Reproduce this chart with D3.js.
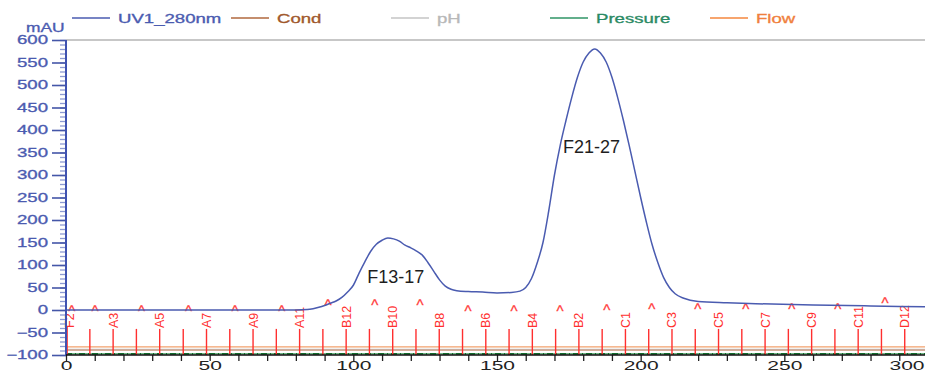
<!DOCTYPE html>
<html><head><meta charset="utf-8">
<script src="https://cdn.jsdelivr.net/npm/d3@7"></script>
<style>
html,body{margin:0;padding:0;background:#fff;overflow:hidden}
svg{display:block}
text{font-family:"Liberation Sans",Arial,sans-serif}
</style></head><body>
<svg id="chart" width="925" height="374"></svg>
<script>
// UV 280 nm trace: elution volume (ml) and absorbance (mAU)
const uvTime  = [0, 40, 80, 84, 86, 88, 90, 92, 94, 96, 98, 100, 102, 104, 106, 108, 110, 112,
                 114, 116, 118, 120, 122, 124, 126, 128, 130, 132, 134, 136, 140, 145, 150, 155, 158,
                 160, 162, 164, 166, 168, 170, 172, 174, 176, 178, 180, 182, 184, 186, 188, 190,
                 192, 194, 196, 198, 200, 202, 204, 206, 208, 210, 212, 215, 220, 230, 240, 260, 280, 300];
const uvValue = [0, 0, 0, 1, 3, 6, 10, 15, 20, 28, 40, 55, 82, 107, 130, 146, 155, 160,
                 158, 153, 144, 138, 131, 122, 105, 86, 67, 53, 46, 43, 41, 40, 38, 39, 42,
                 50, 70, 105, 150, 220, 300, 366, 421, 472, 517, 551, 571, 580, 571, 551, 517,
                 472, 421, 366, 308, 250, 195, 145, 105, 72, 50, 36, 26, 19, 16, 14, 11, 9, 7];

// Flat system traces near the bottom of the scale
const sysTime      = [0, 300];
const flowValue    = [-82, -82];
const condValue    = [-89, -89];
const phValue      = [-87.5, -87.5];
const pressureValue= [-97.5, -97.5];

// Fraction collector marks
const fracPos = [0.2, 8.3, 16.4, 24.5, 32.6, 40.8, 48.9, 57.0, 65.1, 73.2, 81.3, 89.4, 97.5,
                 105.6, 113.7, 121.8, 129.9, 138.0, 146.1, 154.2, 162.3, 170.4, 178.5, 186.6,
                 194.7, 202.8, 210.9, 219.0, 227.1, 235.2, 243.3, 251.4, 259.5, 267.6, 275.7,
                 283.8, 291.9];
const fracLabel = ["F2", "", "A3", "", "A5", "", "A7", "", "A9", "", "A11", "", "B12",
                   "", "B10", "", "B8", "", "B6", "", "B4", "", "B2", "",
                   "C1", "", "C3", "", "C5", "", "C7", "", "C9", "", "C11", "", "D12"];

// Event marks (^) along the baseline
const markPos   = [2.0, 10.1, 26.3, 42.6, 58.8, 75.1, 91.2, 107.5, 123.2, 139.9, 155.9,
                   171.9, 188.2, 203.9, 219.9, 236.6, 252.6, 268.6, 285.0];
const markLevel = [7, 7, 7, 7, 7, 7, 21, 21, 21, 7, 7, 7, 9, 11, 11, 11, 11, 11, 24];

// Axis ticks
const yTicks = [-100, -50, 0, 50, 100, 150, 200, 250, 300, 350, 400, 450, 500, 550, 600];
const xTicks = [0, 50, 100, 150, 200, 250, 300];

// Peak annotations
const peakNames = ["F13-17", "F21-27"];
const peakX     = [114.8, 182.9];
const peakY     = [60, 348];

// Legend
const legendNames  = ["UV1_280nm", "Cond", "pH", "Pressure", "Flow"];
const legendColors = ["#4a5bb0", "#b0683e", "#c4c4c4", "#2f9566", "#f4873e"];
const legendText   = ["#4a5bb0", "#a0582c", "#b8b8b8", "#2a8a64", "#f07f3c"];
const legendX      = [72, 231, 391, 550, 710];

const W = 925;
const svg = d3.select("#chart");
const x = d3.scaleLinear().domain([0, 300]).range([66, 928]);
const y = d3.scaleLinear().domain([-100, 600]).range([355, 40]);
const SX = 1.55; // horizontal stretch of the instrument lettering

// frame top
svg.append("line").attr("x1", 66).attr("x2", W).attr("y1", y(600)).attr("y2", y(600))
  .attr("stroke", "#b4b4b4").attr("stroke-width", 1.5);

// system traces
const sysLine = vals => d3.line().x((d, i) => x(sysTime[i])).y(d => y(d))(vals);
svg.append("path").attr("d", sysLine(flowValue)).attr("fill", "none").attr("stroke", "#f2a16c").attr("stroke-width", 1.2);
svg.append("path").attr("d", sysLine(phValue)).attr("fill", "none").attr("stroke", "#c8c8c8").attr("stroke-width", 1.2);
svg.append("path").attr("d", sysLine(condValue)).attr("fill", "none").attr("stroke", "#c99277").attr("stroke-width", 1.2);
svg.append("path").attr("d", sysLine(pressureValue)).attr("fill", "none").attr("stroke", "#3f9a5a").attr("stroke-width", 1.2);
svg.append("path").attr("d", sysLine(pressureValue)).attr("fill", "none").attr("stroke", "#136b2c")
  .attr("stroke-width", 1.6).attr("stroke-dasharray", "6 3 1 3");

// fraction lines and labels
const fr = svg.append("g");
fr.selectAll("line").data(fracPos).join("line")
  .attr("x1", d => x(d)).attr("x2", d => x(d))
  .attr("y1", (d, i) => i === 0 ? y(-36) : y(-42)).attr("y2", y(-100))
  .attr("stroke", "#ff2f2f").attr("stroke-width", (d, i) => i === 0 ? 2.5 : 1.4);
fr.selectAll("text").data(fracPos).join("text")
  .filter((d, i) => fracLabel[i] !== "")
  .attr("transform", (d, i) => `translate(${x(d) + (d < 1 ? 7.5 : 4.5)},${y(-40)}) rotate(-90)`)
  .attr("font-size", 12.5).attr("fill", "#ff2f2f")
  .text(d => fracLabel[fracPos.indexOf(d)]);

// event marks
svg.append("g").selectAll("text").data(markPos).join("text")
  .attr("x", d => x(d)).attr("y", (d, i) => y(markLevel[i]) + 9)
  .attr("text-anchor", "middle").attr("font-size", 15).attr("fill", "#ff3a3a")
  .attr("stroke", "#ff3a3a").attr("stroke-width", 0.3)
  .text("^");

// UV curve
svg.append("path")
  .attr("d", d3.line().x((d, i) => x(uvTime[i])).y(d => y(d)).curve(d3.curveMonotoneX)(uvValue))
  .attr("fill", "none").attr("stroke", "#4a5bb0").attr("stroke-width", 1.5);

// y axis
const yMinor = svg.append("g").attr("transform", "translate(66,0)")
  .call(d3.axisLeft(y).ticks(70).tickSize(6).tickFormat(""));
yMinor.select(".domain").remove();
yMinor.selectAll("line").attr("stroke", "#8d9ad2").attr("stroke-width", 1.3);
const yAx = svg.append("g").attr("transform", "translate(66,0)")
  .call(d3.axisLeft(y).tickValues(yTicks).tickSize(14));
yAx.select(".domain").remove();
yAx.selectAll("line").attr("stroke", "#4456a8").attr("stroke-width", 1.6);
yAx.selectAll("text").attr("font-size", 12).attr("font-family", "Liberation Sans")
  .attr("fill", "#4b5bb0").attr("stroke", "#4b5bb0").attr("stroke-width", 0.3)
  .attr("x", -18 / SX).attr("transform", `scale(${SX},1)`);
svg.append("line").attr("x1", 66).attr("x2", 66).attr("y1", y(600)).attr("y2", y(-100))
  .attr("stroke", "#3f52b0").attr("stroke-width", 2);

// x axis; the last label sits at the window edge, so it is right-aligned there
const XS = 1.75;
const xAx = svg.append("g").attr("transform", `translate(0,${y(-100)})`)
  .call(d3.axisBottom(x).ticks(30).tickSize(6).tickFormat(d => xTicks.includes(d) ? d : ""));
xAx.select(".domain").remove();
xAx.selectAll("line").attr("stroke", "#222").attr("stroke-width", 1.3);
xAx.selectAll("text").attr("font-size", 12).attr("font-family", "Liberation Sans")
  .attr("fill", "#222").attr("y", 6.5).attr("transform", `scale(${XS},1)`);
xAx.selectAll(".tick").filter(d => x(d) > W - 20).select("text")
  .attr("text-anchor", "end").attr("x", (W - 1 - x(300)) / XS);
svg.append("line").attr("x1", 66).attr("x2", W).attr("y1", y(-100)).attr("y2", y(-100))
  .attr("stroke", "#111").attr("stroke-width", 1.6);

// y unit
svg.append("text").attr("transform", `translate(26,32) scale(1.45,1)`)
  .attr("font-size", 12).attr("fill", "#4b5bb0").attr("stroke", "#4b5bb0").attr("stroke-width", 0.3)
  .text("mAU");

// legend
const lg = svg.append("g").selectAll("g").data(legendNames).join("g")
  .attr("transform", (d, i) => `translate(${legendX[i]},18)`);
lg.append("line").attr("x1", 0).attr("x2", 38).attr("y1", 0).attr("y2", 0)
  .attr("stroke", (d, i) => legendColors[i]).attr("stroke-width", 1.3);
lg.append("text").attr("transform", `translate(46,5) scale(${SX},1)`)
  .attr("font-size", 12).attr("fill", (d, i) => legendText[i])
  .attr("stroke", (d, i) => legendText[i]).attr("stroke-width", 0.3)
  .text(d => d);

// peak annotations
svg.append("g").selectAll("text").data(peakNames).join("text")
  .attr("x", (d, i) => x(peakX[i])).attr("y", (d, i) => y(peakY[i]))
  .attr("text-anchor", "middle").attr("font-family", "Lato, 'Open Sans', sans-serif")
  .attr("font-size", 18).attr("fill", "#1e1e1e").text(d => d);
</script>
</body></html>
